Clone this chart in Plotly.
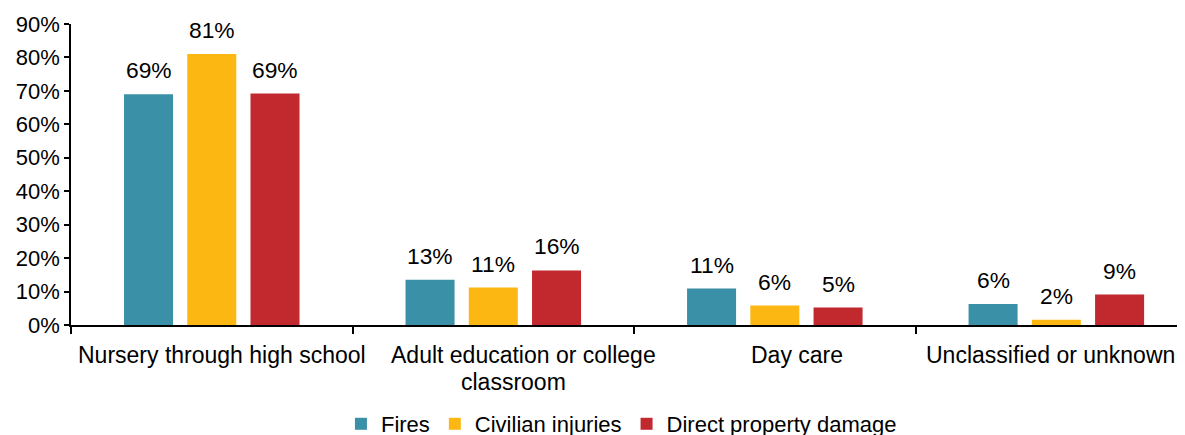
import plotly.graph_objects as go

categories = ["Nursery through high school", "Adult education or college<br>classroom",
              "Day care", "Unclassified or unknown"]
series_names = ["Fires", "Civilian injuries", "Direct property damage"]
fires = [0.690, 0.135, 0.109, 0.063]
injuries = [0.810, 0.112, 0.058, 0.016]
damage = [0.692, 0.163, 0.052, 0.091]
fires_labels = ["69%", "13%", "11%", "6%"]
injuries_labels = ["81%", "11%", "6%", "2%"]
damage_labels = ["69%", "16%", "5%", "9%"]
colors = ["#3A90A6", "#FDB713", "#C1292E"]

FONT = "Arial, Liberation Sans, sans-serif"

fig = go.Figure()
all_vals = [fires, injuries, damage]
all_labs = [fires_labels, injuries_labels, damage_labels]
for name, vals, col in zip(series_names, all_vals, colors):
    fig.add_trace(go.Bar(
        x=categories, y=vals, name=name, marker_color=col,
        marker_line_width=0, hoverinfo="skip",
    ))

# value labels placed above each bar (pixel shift per series within a group)
group_shift = [-63.25, 0, 63.25]
for vals, labs, dx in zip(all_vals, all_labs, group_shift):
    for cat, v, lab in zip(categories, vals, labs):
        fig.add_annotation(x=cat, y=v, xref="x", yref="y", text=lab, showarrow=False,
                           xshift=dx, yshift=9, yanchor="bottom", xanchor="center",
                           font=dict(family=FONT, size=22.8, color="#000000"))

# category labels drawn below the axis, line by line, with the reference's offsets
label_line_shift = [[10], [30, 20], [22], [-6]]
for cat, shifts in zip(categories, label_line_shift):
    for i, (line, dx) in enumerate(zip(cat.split("<br>"), shifts)):
        fig.add_annotation(x=cat, y=0, xref="x", yref="paper", text=line,
                           showarrow=False, xanchor="center", yanchor="top",
                           xshift=dx, yshift=-14.5 - 27 * i,
                           font=dict(family=FONT, size=23, color="#000000"))

# page body has an 8px default margin, so the figure is sized to fit the window
fig.update_layout(
    width=1177, height=427,
    margin=dict(l=63, r=0, t=16, b=110),
    paper_bgcolor="white", plot_bgcolor="white",
    barmode="group", bargap=0.326, bargroupgap=0.225,
    font=dict(family=FONT, size=22, color="#000000"),
    showlegend=True,
    legend=dict(orientation="h", xref="container", yref="container",
                x=0.5212, xanchor="center", y=0.0258, yanchor="middle",
                font=dict(family=FONT, size=22, color="#000000"),
                itemwidth=30, tracegroupgap=0),
)
fig.update_yaxes(range=[0, 0.9], dtick=0.1, tickformat=".0%", showgrid=False,
                 zeroline=False, showline=True, linecolor="#000000", linewidth=1.5,
                 ticks="outside", ticklen=5, tickcolor="#000000", tickwidth=1.5,
                 automargin=False,
                 tickfont=dict(family=FONT, size=22, color="#000000"))
fig.update_xaxes(range=[-0.5, 3.457], showgrid=False, showline=True, linecolor="#000000",
                 linewidth=2, ticks="outside", tickson="boundaries", ticklen=7,
                 tickcolor="#000000", tickwidth=1.5, automargin=False,
                 showticklabels=False)

fig.write_html("out.html")
